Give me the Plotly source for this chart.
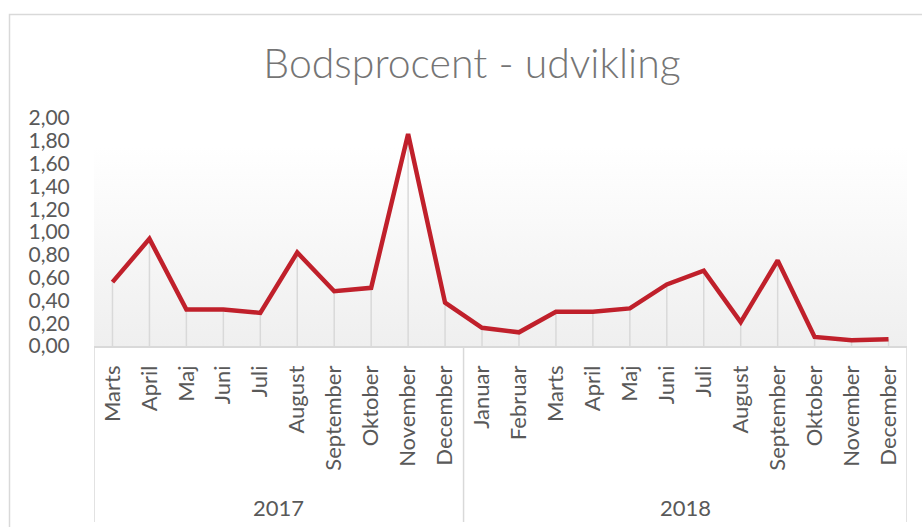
import plotly.graph_objects as go

# ---- data ----
months_2017 = ["Marts", "April", "Maj", "Juni", "Juli", "August", "September",
               "Oktober", "November", "December"]
months_2018 = ["Januar", "Februar", "Marts", "April", "Maj", "Juni", "Juli",
               "August", "September", "Oktober", "November", "December"]
values_2017 = [0.56, 0.94, 0.32, 0.32, 0.29, 0.82, 0.48, 0.51, 1.86, 0.38]
values_2018 = [0.16, 0.12, 0.30, 0.30, 0.33, 0.54, 0.66, 0.21, 0.75, 0.08, 0.05, 0.06]
years = ["2017", "2018"]
y_ticks = [0.0, 0.2, 0.4, 0.6, 0.8, 1.0, 1.2, 1.4, 1.6, 1.8, 2.0]
title_text = "Bodsprocent - udvikling"

# ---- derived ----
months = months_2017 + months_2018
values = values_2017 + values_2018
xs = list(range(len(months)))
n17 = len(months_2017)
n = len(months)

W, H = 922, 527
L, R, T, B = 94, 15, 118, 181
plot_w = W - L - R
plot_h = H - T - B

def px_x(p):
    return (p - L) / plot_w

def px_y(p):
    return (H - B - p) / plot_h

GRID = "#d9d9d9"
TXT = "#595959"
FONT = "Lato"

fig = go.Figure()

# gradient plot-area background
fig.add_trace(go.Scatter(
    x=[-0.5, n - 0.5, n - 0.5, -0.5, -0.5],
    y=[0, 0, y_ticks[-1], y_ticks[-1], 0],
    mode="lines", line=dict(width=0), fill="toself",
    fillgradient=dict(type="vertical", start=0, stop=1.75,
                      colorscale=[[0, "#efefef"], [1, "#ffffff"]]),
    hoverinfo="skip", showlegend=False))

# drop lines
dx, dy = [], []
for x, v in zip(xs, values):
    dx += [x, x, None]
    dy += [0, v, None]
fig.add_trace(go.Scatter(x=dx, y=dy, mode="lines",
                         line=dict(color=GRID, width=1.5),
                         hoverinfo="skip", showlegend=False))

# main line
fig.add_trace(go.Scatter(x=xs, y=values, mode="lines",
                         line=dict(color="#C0202B", width=4.5),
                         showlegend=False))

shapes = []
# category group dividers
for xv in [-0.5, n17 - 0.5, n - 0.5]:
    shapes.append(dict(type="line", xref="x", yref="paper",
                       x0=xv, x1=xv, y0=0, y1=px_y(522),
                       line=dict(color=GRID, width=1.5)))
# chart border
shapes.append(dict(type="rect", xref="paper", yref="paper",
                   x0=px_x(9.5), x1=px_x(940), y0=px_y(14.5), y1=px_y(560),
                   line=dict(color=GRID, width=1.5), fillcolor="rgba(0,0,0,0)"))

annotations = []
for yr, (a, b) in zip(years, [(-0.5, n17 - 0.5), (n17 - 0.5, n - 0.5)]):
    annotations.append(dict(text=yr, xref="x", yref="paper", x=(a + b) / 2,
                            y=px_y(507), showarrow=False, yanchor="middle",
                            font=dict(family=FONT, size=22, color=TXT)))

fig.update_layout(
    width=W, height=H, autosize=False,
    margin=dict(l=L, r=R, t=T, b=B, pad=0, autoexpand=False),
    paper_bgcolor="white", plot_bgcolor="white",
    separators=",.",
    hovermode=False,
    title=dict(text=title_text, x=472 / W, xref="container", xanchor="center",
               y=1 - 64 / H, yref="container", yanchor="middle",
               font=dict(family=FONT, size=41, color="#757575", weight=300)),
    shapes=shapes, annotations=annotations,
    xaxis=dict(range=[-0.5, n - 0.5], tickmode="array", tickvals=xs,
               ticktext=months, tickangle=-90, showgrid=False, zeroline=False,
               showline=True, linecolor=GRID, linewidth=1.5, automargin=False,
               ticks="outside", ticklen=9, tickcolor="rgba(0,0,0,0)",
               tickfont=dict(family=FONT, size=22, color=TXT)),
    yaxis=dict(range=[0, y_ticks[-1]], tickmode="array", tickvals=y_ticks,
               tickformat=".2f", showgrid=False, zeroline=False, showline=False,
               automargin=False,
               ticks="outside", ticklen=19, tickcolor="rgba(0,0,0,0)",
               tickfont=dict(family=FONT, size=21, color=TXT)),
)

fig.write_html("out.html", config={"displayModeBar": False},
               post_script="document.body.style.margin='0px';"
                           "document.body.style.padding='0px';")
